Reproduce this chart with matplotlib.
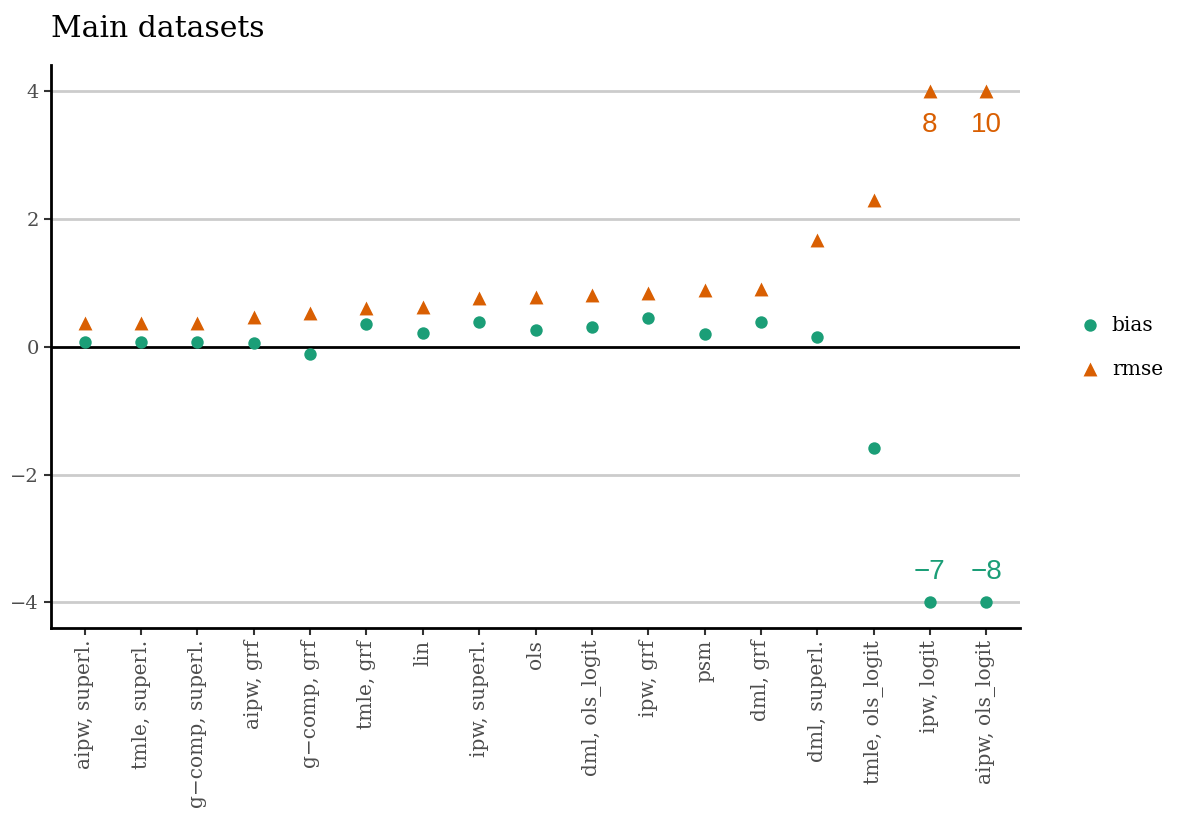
import matplotlib
matplotlib.use('Agg')
import matplotlib.pyplot as plt
import numpy as np

methods = ['aipw, superl.', 'tmle, superl.', 'g\u2212comp, superl.', 'aipw, grf',
           'g\u2212comp, grf', 'tmle, grf', 'lin', 'ipw, superl.', 'ols',
           'dml, ols_logit', 'ipw, grf', 'psm', 'dml, grf', 'dml, superl.',
           'tmle, ols_logit', 'ipw, logit', 'aipw, ols_logit']
bias = [0.08, 0.08, 0.08, 0.06, -0.11, 0.35, 0.21, 0.39, 0.26, 0.31, 0.44,
        0.20, 0.38, 0.15, -1.58, -7, -8]
rmse = [0.37, 0.37, 0.37, 0.47, 0.53, 0.61, 0.62, 0.76, 0.77, 0.81, 0.84,
        0.89, 0.90, 1.66, 2.29, 8, 10]

clip = 4
green = '#1b9e77'
orange = '#d95f02'
serif = 'DejaVu Serif'

plt.rcParams['font.family'] = serif

fig = plt.figure(figsize=(11.82, 8.15), dpi=100)
ax = fig.add_axes([0.0431, 0.2294, 0.8199, 0.6906])

x = np.arange(1, len(methods) + 1)
b = np.clip(bias, -clip, clip)
r = np.clip(rmse, -clip, clip)

for yv in [-4, -2, 2, 4]:
    ax.axhline(yv, color='#cccccc', lw=2, zorder=0)
ax.axhline(0, color='black', lw=2, zorder=1)

ax.scatter(x, b, s=80, marker='o', color=green, zorder=3, label='bias', linewidths=0)
ax.scatter(x, r, s=100, marker='^', color=orange, zorder=3, label='rmse', linewidths=0)

# labels for clipped values
for xi, v in zip(x, bias):
    if abs(v) > clip:
        ax.text(xi, -clip + 0.47, f'\u2212{abs(v)}' if v < 0 else str(v), color=green,
                ha='center', va='center', fontsize=20, family='Liberation Sans')
for xi, v in zip(x, rmse):
    if abs(v) > clip:
        ax.text(xi, clip - 0.53, str(v), color=orange,
                ha='center', va='center', fontsize=20, family='Liberation Sans')

ax.set_xlim(0.4, len(methods) + 0.6)
ax.set_ylim(-4.4, 4.4)
ax.set_xticks(x)
ax.set_xticklabels(methods, rotation=90, fontsize=14.5, color='#4d4d4d')
ax.set_yticks([-4, -2, 0, 2, 4])
ax.set_yticklabels(['\u22124', '\u22122', '0', '2', '4'], fontsize=14, color='#4d4d4d')
ax.tick_params(axis='both', length=5, width=1.5, color='#333333')

for side in ['top', 'right']:
    ax.spines[side].set_visible(False)
for side in ['left', 'bottom']:
    ax.spines[side].set_linewidth(2)
    ax.spines[side].set_color('black')

ax.set_title('Main datasets', loc='left', fontsize=21.5, pad=20, x=0.0)

leg = fig.legend(loc='center left', bbox_to_anchor=(0.898, 0.574), frameon=False,
                 fontsize=14.5, handletextpad=0.6, labelspacing=1.25, handlelength=1.0)

fig.savefig('out.png', dpi=100, facecolor='white')
